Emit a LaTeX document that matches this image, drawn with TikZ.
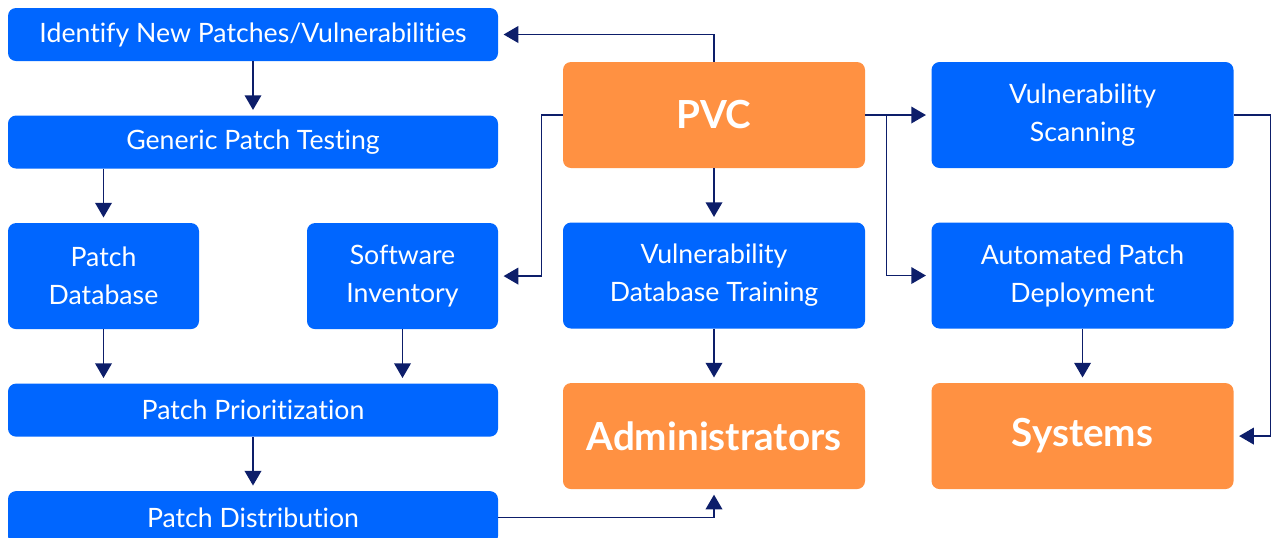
\documentclass[tikz,border=0pt]{standalone}
\usepackage{fontspec}
\setmainfont{Lato}[Ligatures=NoCommon]
\usetikzlibrary{positioning,arrows.meta}

\definecolor{boxblue}{HTML}{0066FF}
\definecolor{boxorange}{HTML}{FF9142}
\definecolor{linknavy}{HTML}{0D1E6A}

\tikzset{
  box/.style={rounded corners=6pt, text=white, align=center, inner sep=0pt,
    font=\fontsize{20}{28.5}\selectfont},
  bluebox/.style={box, fill=boxblue},
  orangebox/.style={box, fill=boxorange, font=\fontsize{29}{34}\selectfont\bfseries},
  widebox/.style={bluebox, minimum width=367.5pt, minimum height=39.75pt},
  tallbox/.style={minimum width=226.5pt, minimum height=79.5pt},
  smallbox/.style={bluebox, minimum width=143.25pt, minimum height=79.5pt},
  link/.style={draw=linknavy, line width=1.1pt,
    -{Triangle[length=11pt,width=12.5pt]}, shorten >=4pt},
}

\begin{document}
\begin{tikzpicture}[x=0.75pt, y=-0.75pt, node distance=40.5pt]
  \useasboundingbox (0,0) rectangle (1271,537);

  % patch workflow, left side
  \node[widebox] (identify) at (253,34.5) {Identify New Patches/Vulnerabilities};
  \node[widebox, below=of identify] (generic) {Generic Patch Testing};
  \node[smallbox, below=of generic.south west, anchor=north west] (patchdb) {Patch\\Database};
  \node[smallbox, below=of generic.south east, anchor=north east] (software) {Software\\Inventory};
  \node[widebox, below=of patchdb.south west, anchor=north west] (prior) {Patch Prioritization};
  \node[widebox, below=of prior] (distrib) {Patch Distribution};

  % PVC column
  \node[orangebox, tallbox] (pvc) at (714,115) {PVC};
  \node[bluebox, tallbox, below=of pvc] (vdt) {Vulnerability\\Database Training};
  \node[orangebox, tallbox, below=of vdt] (admin) {Administrators};

  % right column
  \node[bluebox, tallbox, right=49.5pt of pvc] (scan) {Vulnerability\\Scanning};
  \node[bluebox, tallbox, below=of scan] (deploy) {Automated Patch\\Deployment};
  \node[orangebox, tallbox, below=of deploy] (systems) {Systems};

  \draw[link] (pvc.north) |- (identify.east);
  \draw[link] (identify) -- (generic);
  \draw[link] (generic.south -| patchdb) -- (patchdb);
  \draw[link] (pvc.west) -- ++(-15.75pt,0) |- (software.east);
  \draw[link] (pvc) -- (vdt);
  \draw[link] (vdt) -- (admin);
  \draw[link] (pvc.east) -- (scan.west);
  \draw[link] (pvc.east) ++(15.75pt,0) |- (deploy.west);
  \draw[link] (scan.east) -- ++(27.75pt,0) |- (systems.east);
  \draw[link] (deploy) -- (systems);
  \draw[link] (patchdb) -- (patchdb.south |- prior.north);
  \draw[link] (software) -- (software.south |- prior.north);
  \draw[link] (prior) -- (distrib);
  \draw[link] (distrib.east) -| (admin.south);
\end{tikzpicture}
\end{document}
